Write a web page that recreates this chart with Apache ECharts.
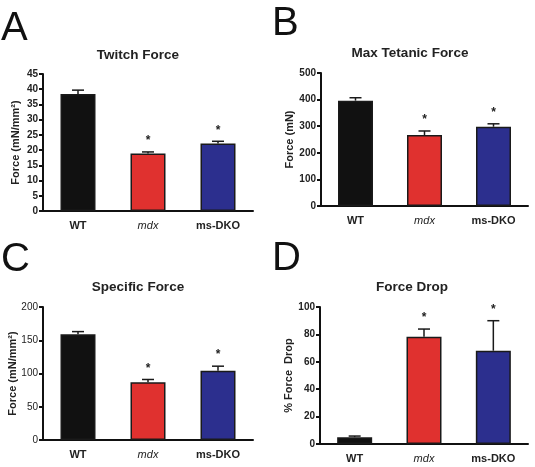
<!DOCTYPE html>
<html>
<head>
<meta charset="utf-8">
<script src="https://cdn.jsdelivr.net/npm/echarts@6/dist/echarts.min.js"></script>
<style>
  html, body { margin: 0; padding: 0; background: #fff; }
  #main { width: 535px; height: 467px; }
</style>
</head>
<body>
<div id="main"></div>
<script>
  // groups on the x axis, same for every panel
  var groups = ['WT', 'mdx', 'ms-DKO'];
  var barColors = ['#111111', '#e0312f', '#2c2f8e'];

  // A: twitch force (mN/mm2)
  var twitchMean = [38.4, 18.9, 22.2];
  var twitchErr = [39.7, 19.4, 22.9];
  // B: max tetanic force (mN)
  var tetanicMean = [396, 267, 298];
  var tetanicErr = [407, 282, 309];
  // C: specific force (mN/mm2)
  var specificMean = [159, 87, 104];
  var specificErr = [163, 91, 111];
  // D: % force drop
  var dropMean = [5, 78.3, 68.1];
  var dropErr = [5.8, 83.9, 90];

  // significance marks (1 = asterisk above the bar)
  var starsA = [0, 1, 1];
  var starsB = [0, 1, 1];
  var starsC = [0, 1, 1];
  var starsD = [0, 1, 1];

  // y axis ticks
  var yTicksA = { max: 45, interval: 5 };
  var yTicksB = { max: 500, interval: 100 };
  var yTicksC = { max: 200, interval: 50 };
  var yTicksD = { max: 100, interval: 20 };

  var font = 'Liberation Sans, Arial, sans-serif';

  var panels = [
    { letter: 'A', title: 'Twitch Force', yName: 'Force (mN/mm²)', mean: twitchMean, err: twitchErr, stars: starsA, ticks: yTicksA,
      grid: { left: 43, top: 74, width: 210, height: 137 }, letterPos: [1, 9], titlePos: [138, 48], nameGap: 22, tickBold: 'bold' },
    { letter: 'B', title: 'Max Tetanic Force', yName: 'Force (mN)', mean: tetanicMean, err: tetanicErr, stars: starsB, ticks: yTicksB,
      grid: { left: 321, top: 73, width: 207, height: 133 }, letterPos: [272, 4], titlePos: [410, 46], nameGap: 26, tickBold: 'bold' },
    { letter: 'C', title: 'Specific Force', yName: 'Force (mN/mm²)', mean: specificMean, err: specificErr, stars: starsC, ticks: yTicksC,
      grid: { left: 43, top: 307, width: 210, height: 133 }, letterPos: [1, 240], titlePos: [138, 280], nameGap: 25, tickBold: 'normal' },
    { letter: 'D', title: 'Force Drop', yName: '% Force  Drop', mean: dropMean, err: dropErr, stars: starsD, ticks: yTicksD,
      grid: { left: 320, top: 307, width: 208, height: 137 }, letterPos: [272, 239], titlePos: [412, 280], nameGap: 26, tickBold: 'bold' }
  ];

  var chart = echarts.init(document.getElementById('main'));

  var titles = [], grids = [], xAxes = [], yAxes = [], series = [];

  panels.forEach(function (p, i) {
    titles.push({
      text: p.letter, left: p.letterPos[0], top: p.letterPos[1], padding: 0,
      textStyle: { fontFamily: font, fontSize: 40, fontWeight: 'normal', color: '#111' }
    });
    titles.push({
      text: p.title, left: p.titlePos[0], top: p.titlePos[1], textAlign: 'center', padding: 0,
      textStyle: { fontFamily: font, fontSize: 13.5, fontWeight: 'bold', color: '#222' }
    });
    grids.push(p.grid);
    xAxes.push({
      type: 'category', gridIndex: i, data: groups,
      axisLine: { lineStyle: { color: '#111', width: 2 } },
      axisTick: { alignWithLabel: true, length: 4, lineStyle: { color: '#111', width: 2 } },
      axisLabel: {
        interval: 0, margin: 9,
        formatter: function (v) { return v === 'mdx' ? '{it|' + v + '}' : '{bd|' + v + '}'; },
        rich: {
          bd: { fontFamily: font, fontSize: 11, fontWeight: 'bold', color: '#222' },
          it: { fontFamily: font, fontSize: 11, fontStyle: 'italic', color: '#222' }
        }
      }
    });
    yAxes.push({
      type: 'value', gridIndex: i, min: 0, max: p.ticks.max, interval: p.ticks.interval,
      name: p.yName, nameLocation: 'middle', nameGap: p.nameGap, nameMoveOverlap: false,
      nameTextStyle: { fontFamily: font, fontSize: 11, fontWeight: 'bold', color: '#222' },
      axisLine: { show: true, lineStyle: { color: '#111', width: 2 } },
      axisTick: { show: true, length: 4, lineStyle: { color: '#111', width: 2 } },
      axisLabel: { margin: 5, fontFamily: font, fontSize: 10, fontWeight: p.tickBold, color: '#222' },
      splitLine: { show: false }
    });
    series.push({
      type: 'bar', xAxisIndex: i, yAxisIndex: i, barWidth: 35,
      data: p.mean.map(function (v, k) {
        return { value: v, itemStyle: { color: barColors[k], borderColor: '#1a1a1a', borderWidth: 1.5 } };
      })
    });
    series.push({
      type: 'custom', xAxisIndex: i, yAxisIndex: i, z: 1,
      data: p.mean.map(function (v, k) { return [k, v, p.err[k], p.stars[k]]; }),
      renderItem: function (params, api) {
        var base = api.coord([api.value(0), api.value(1)]);
        var top = api.coord([api.value(0), api.value(2)]);
        var kids = [
          { type: 'line', shape: { x1: base[0], y1: base[1], x2: top[0], y2: top[1] }, style: { stroke: '#1a1a1a', lineWidth: 1.5 } },
          { type: 'line', shape: { x1: top[0] - 6, y1: top[1], x2: top[0] + 6, y2: top[1] }, style: { stroke: '#1a1a1a', lineWidth: 1.5 } }
        ];
        if (api.value(3)) {
          kids.push({ type: 'text', x: top[0], y: top[1] - 11,
            style: { text: '*', fill: '#222', font: 'bold 12px ' + font, align: 'center', verticalAlign: 'middle' } });
        }
        return { type: 'group', children: kids };
      }
    });
  });

  chart.setOption({
    animation: false,
    title: titles,
    grid: grids,
    xAxis: xAxes,
    yAxis: yAxes,
    series: series
  });
</script>
</body>
</html>
